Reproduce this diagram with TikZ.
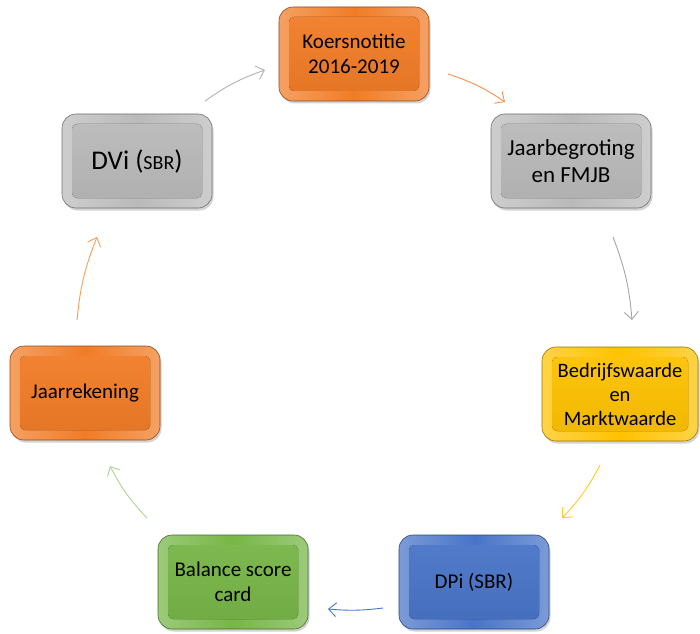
\documentclass[tikz,border=0pt]{standalone}
\usepackage{fontspec}
\setmainfont{Carlito}
\usetikzlibrary{arrows.meta,shadows}

\definecolor{orangeB}{RGB}{241,124,38}
\definecolor{grayB}{RGB}{186,186,186}
\definecolor{yellowB}{RGB}{255,194,0}
\definecolor{blueB}{RGB}{72,116,200}
\definecolor{greenB}{RGB}{118,182,70}

\tikzset{
  kbox/.style={rectangle, rounded corners=14pt, minimum width=150pt, minimum height=94pt,
    align=center, inner sep=2pt, text=black, font=\fontsize{21}{25}\selectfont,
    draw=#1!60!black, line width=0.6pt,
    left color=#1!72!white, right color=#1!72!white, middle color=#1,
    drop shadow={opacity=0.35, shadow xshift=1.5pt, shadow yshift=-2.5pt},
    path picture={\fill[top color=#1!94!white, bottom color=#1!94!black, rounded corners=5pt]
      ([shift={(10pt,10pt)}]path picture bounding box.south west) rectangle
      ([shift={(-10pt,-10pt)}]path picture bounding box.north east);}},
  arr/.style={-{Straight Barb[length=7.5pt,width=14pt]}, line width=0.9pt, draw=#1}
}

\begin{document}
\begin{tikzpicture}[x=1pt, y=1pt]
  \useasboundingbox (0,0) rectangle (700,633);

  % Boxes around the cycle
  \node[kbox=orangeB] (koers) at (354,579) {Koersnotitie\\2016-2019};
  \node[kbox=grayB, minimum width=160pt, font=\fontsize{23}{27}\selectfont] (begroting) at (571,472) {Jaarbegroting\\en FMJB};
  \node[kbox=yellowB, minimum width=156pt, font=\fontsize{20.5}{24}\selectfont] (waarde) at (620,239) {Bedrijfswaarde\\en\\Marktwaarde};
  \node[kbox=blueB] (dpi) at (474,51) {DPi (SBR)};
  \node[kbox=greenB] (bsc) at (233,51) {Balance score\\card};
  \node[kbox=orangeB] (rekening) at (85,240) {Jaarrekening};
  \node[kbox=grayB, font=\fontsize{27}{30}\selectfont] (dvi) at (137,472) {DVi (\fontsize{20}{22}\selectfont SBR\fontsize{27}{30}\selectfont)};

  % Ends of the arrows between the boxes
  \coordinate (p12) at (448,559); \coordinate (q12) at (505,531);
  \coordinate (p23) at (613,396); \coordinate (q23) at (632,313);
  \coordinate (p34) at (600,168); \coordinate (q34) at (562,115);
  \coordinate (p45) at (383,25);  \coordinate (q45) at (328,24);
  \coordinate (p56) at (147,115); \coordinate (q56) at (110,167);
  \coordinate (p67) at (77,313);  \coordinate (q67) at (97,396);
  \coordinate (p71) at (205,532); \coordinate (q71) at (265,563);

  % Arrows
  \draw[arr={orangeB!85!white}] (p12) to[bend left=8] (q12);
  \draw[arr={black!35}] (p23) to[bend left=8] (q23);
  \draw[arr={yellowB!85!white}] (p34) to[bend left=8] (q34);
  \draw[arr=blueB] (p45) to[bend left=6] (q45);
  \draw[arr={greenB!60!white}] (p56) to[bend left=8] (q56);
  \draw[arr={orangeB!75!white}] (p67) to[bend left=8] (q67);
  \draw[arr={black!30}] (p71) to[bend left=8] (q71);
\end{tikzpicture}
\end{document}
